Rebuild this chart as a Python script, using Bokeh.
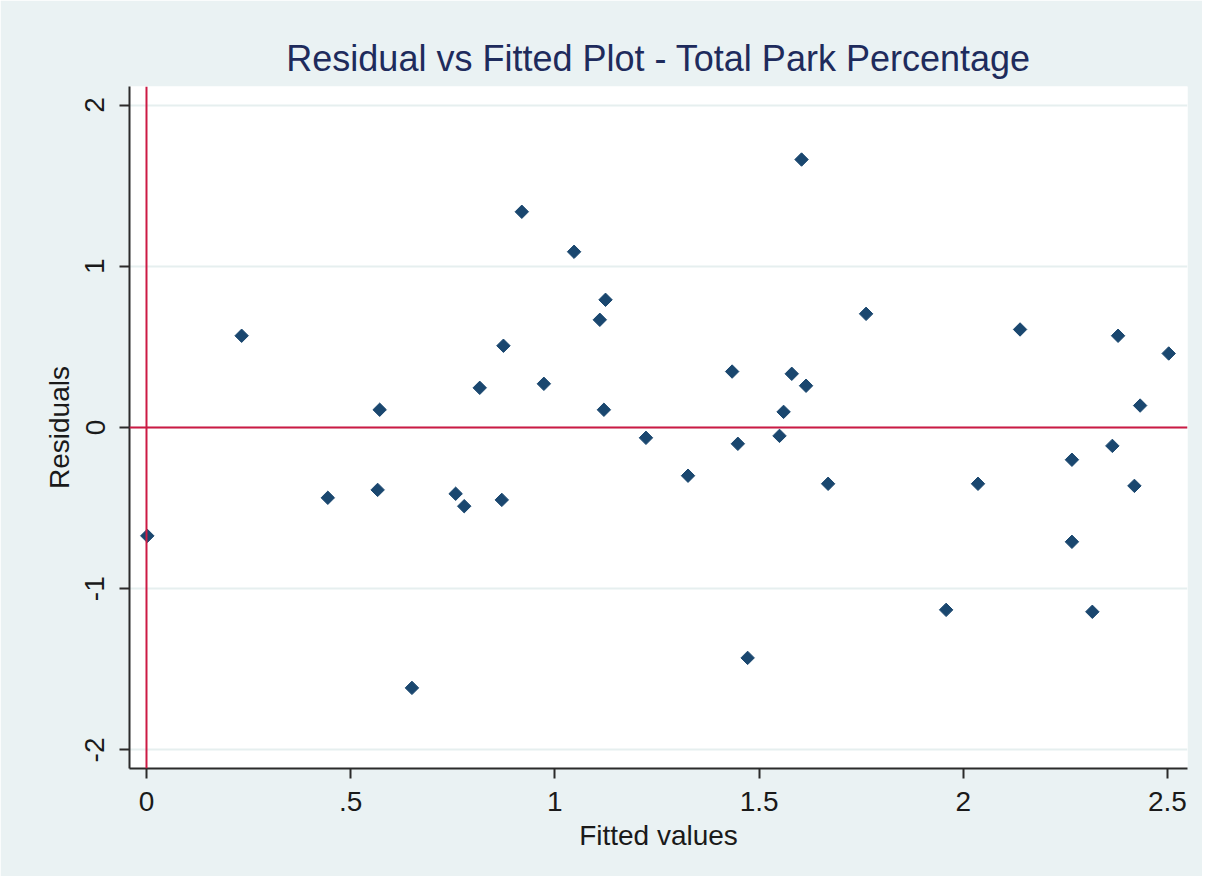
import math
from bokeh.plotting import figure
from bokeh.models import Span, FixedTicker, Range1d, Title
from bokeh.embed import file_html
from bokeh.resources import INLINE

fitted = [0.002, 0.233, 0.444, 0.566, 0.571, 0.650, 0.757, 0.778, 0.816, 0.870,
          0.874, 0.919, 0.973, 1.047, 1.110, 1.124, 1.120, 1.223, 1.326, 1.434,
          1.448, 1.472, 1.550, 1.560, 1.580, 1.604, 1.615, 1.669, 1.762, 1.958,
          2.036, 2.139, 2.266, 2.266, 2.316, 2.365, 2.379, 2.419, 2.433, 2.503]
residuals = [-0.672, 0.569, -0.436, -0.387, 0.110, -1.615, -0.411, -0.488, 0.246, -0.449,
             0.507, 1.338, 0.271, 1.090, 0.668, 0.792, 0.110, -0.064, -0.299, 0.347,
             -0.101, -1.429, -0.052, 0.097, 0.333, 1.662, 0.259, -0.349, 0.705, -1.131,
             -0.349, 0.608, -0.200, -0.709, -1.143, -0.114, 0.569, -0.362, 0.136, 0.459]

x_ticks = [0, 0.5, 1, 1.5, 2, 2.5]
x_tick_labels = ["0", ".5", "1", "1.5", "2", "2.5"]
y_ticks = [-2, -1, 0, 1, 2]
y_tick_labels = ["-2", "-1", "0", "1", "2"]

title_text = "Residual vs Fitted Plot - Total Park Percentage"
x_title = "Fitted values"
y_title = "Residuals"

BG = "#EAF2F3"
NAVY = "#1A476F"
RED = "#CC1A44"
FONT = "Liberation Sans"


def key(t):
    return int(t) if float(t).is_integer() else t


p = figure(width=1202, height=876, output_backend="svg", toolbar_location=None,
           x_range=Range1d(-0.0416, 2.549), y_range=Range1d(-2.115, 2.115),
           min_border_left=129, min_border_right=15, min_border_top=86,
           min_border_bottom=108)
p.title = Title(text=title_text, align="center", text_font=FONT,
                text_font_size="36px", text_font_style="normal",
                text_color="#1E2B5C", standoff=15)

p.background_fill_color = "white"
p.border_fill_color = BG
p.outline_line_color = None

# axes
for ax in (p.xaxis[0], p.yaxis[0]):
    ax.axis_line_color = "#2b2b2b"
    ax.axis_line_width = 2
    ax.major_tick_line_color = "#2b2b2b"
    ax.major_tick_line_width = 2
    ax.major_tick_out = 10
    ax.major_tick_in = 0
    ax.minor_tick_line_color = None
    ax.major_label_text_font = FONT
    ax.major_label_text_font_size = "28px"
    ax.major_label_text_color = "#1a1a1a"
    ax.axis_label_text_font = FONT
    ax.axis_label_text_font_size = "28px"
    ax.axis_label_text_font_style = "normal"
    ax.axis_label_text_color = "#1a1a1a"

p.xaxis[0].ticker = FixedTicker(ticks=x_ticks)
p.xaxis[0].major_label_overrides = {key(t): l for t, l in zip(x_ticks, x_tick_labels)}
p.xaxis[0].axis_label = x_title
p.xaxis[0].major_label_standoff = 13
p.xaxis[0].axis_label_standoff = 6

p.yaxis[0].ticker = FixedTicker(ticks=y_ticks)
p.yaxis[0].major_label_overrides = {key(t): l for t, l in zip(y_ticks, y_tick_labels)}
p.yaxis[0].axis_label = y_title
p.yaxis[0].major_label_orientation = "vertical"
p.yaxis[0].major_label_standoff = 15
p.yaxis[0].axis_label_standoff = 8

p.xgrid.visible = False
p.ygrid.ticker = FixedTicker(ticks=y_ticks)
p.ygrid.grid_line_color = "#E6EFEF"
p.ygrid.grid_line_width = 2

p.add_layout(Span(location=0, dimension="height", line_color=RED, line_width=2))
p.add_layout(Span(location=0, dimension="width", line_color=RED, line_width=2))

p.scatter(fitted, residuals, marker="square", angle=math.pi / 4, size=9.5,
          fill_color=NAVY, line_color=NAVY, line_width=1)

open("out.html", "w").write(file_html(p, INLINE))
